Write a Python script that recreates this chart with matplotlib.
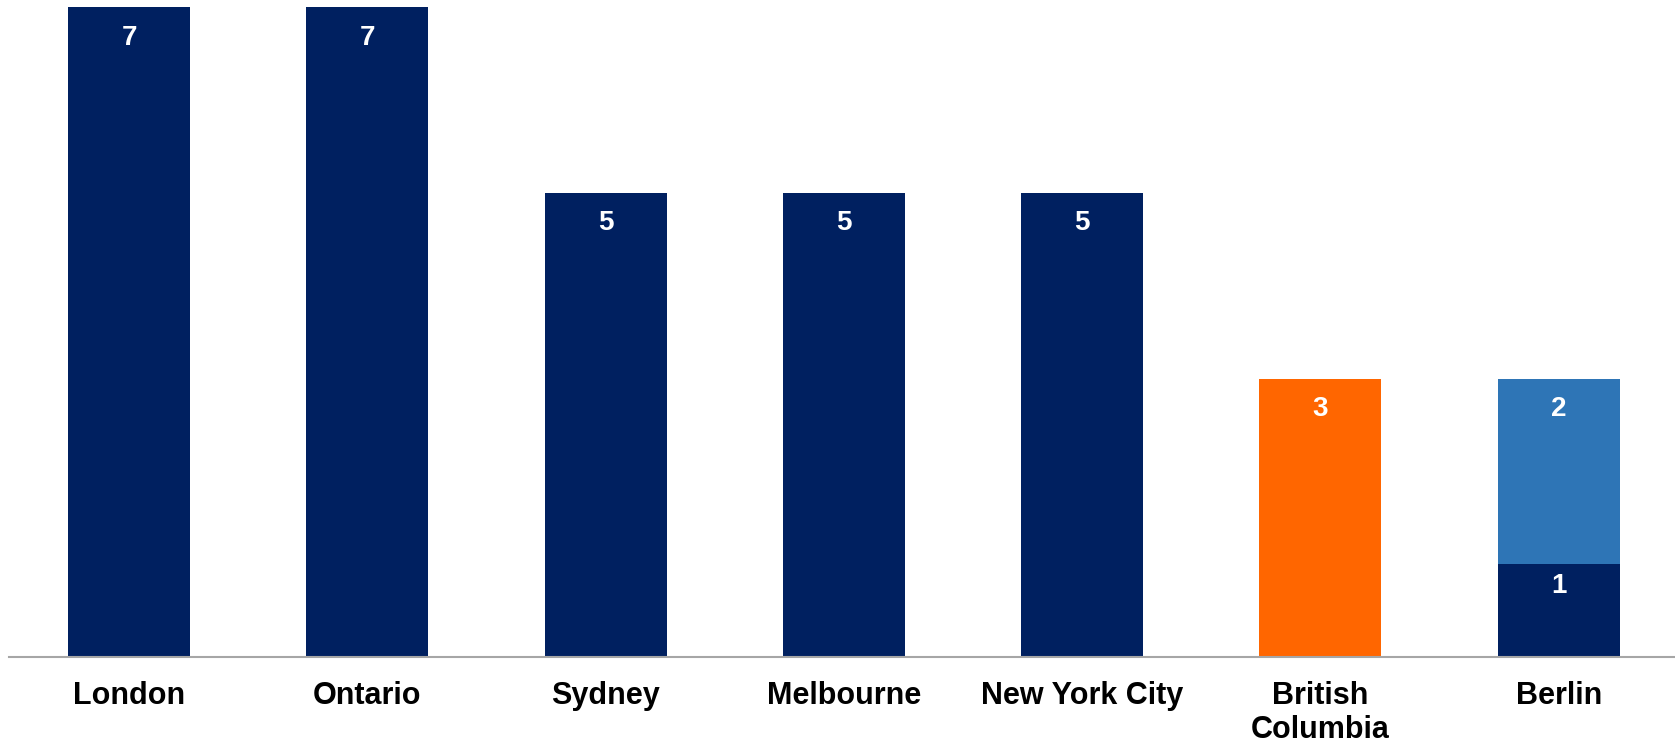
import numpy as np
import matplotlib.pyplot as plt

# data
cities = ["London", "Ontario", "Sydney", "Melbourne", "New York City",
          "British\nColumbia", "Berlin"]
base_vals = [7, 7, 5, 5, 5, 3, 1]
top_vals = [0, 0, 0, 0, 0, 0, 2]

navy = "#002060"
orange = "#FF6600"
light_blue = "#2E75B6"
base_colors = [navy, navy, navy, navy, navy, orange, navy]

plt.rcParams['font.family'] = ['Liberation Sans', 'DejaVu Sans']

fig = plt.figure(figsize=(16.75, 7.45), dpi=100)
ax = fig.add_axes([9 / 1675, 88 / 745, 1 - 9 / 1675, (657 - 7.3) / 745])

x = np.arange(len(cities))
width = 0.512
bars1 = ax.bar(x, base_vals, width, color=base_colors)
bars2 = ax.bar(x, top_vals, width, bottom=base_vals, color=light_blue)

# value labels inside the top of each segment
for b, v in zip(bars1, base_vals):
    if v > 0:
        off = -22 if v > 1 else -16
        ax.annotate(str(v), (b.get_x() + b.get_width() / 2, b.get_y() + b.get_height()),
                    xytext=(0, off), textcoords="offset points", ha="center", va="center",
                    color="white", fontsize=20, fontweight="bold")
for b, v in zip(bars2, top_vals):
    if v > 0:
        ax.annotate(str(v), (b.get_x() + b.get_width() / 2, b.get_y() + b.get_height()),
                    xytext=(0, -22), textcoords="offset points", ha="center", va="center",
                    color="white", fontsize=20, fontweight="bold")

ax.set_xlim(-0.504, 6.488)
ax.set_ylim(0, 7)
ax.set_xticks(x)
ax.set_xticklabels(cities, fontsize=22, fontweight="bold", va="top")
ax.tick_params(axis="x", length=0, pad=17)
ax.set_yticks([])
for s in ["top", "right", "left"]:
    ax.spines[s].set_visible(False)
ax.spines["bottom"].set_color("#A6A6A6")
ax.spines["bottom"].set_linewidth(1.5)

fig.savefig("out.png", dpi=100)
